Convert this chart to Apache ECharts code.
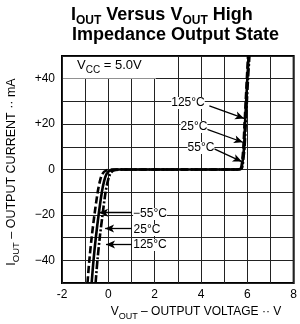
<!DOCTYPE html>
<html><head><meta charset="utf-8">
<script src="https://cdn.jsdelivr.net/npm/echarts@6/dist/echarts.min.js"></script>
<style>html,body{margin:0;padding:0;background:#fff}#c{width:300px;height:324px}</style>
</head><body><div id="c"></div>
<script>
// --- data (V_OUT in V, I_OUT in mA) ---
const vM55 = [-0.90,-0.82,-0.72,-0.60,-0.46,-0.36,-0.26,-0.10,0.20,5.55,5.72,5.78,5.83,5.88,5.93,5.98,6.03];
const iM55 = [-50,-40,-30,-20,-10,-5,-2,-0.5,0,0,0.6,4,10,20,30,40,50];
const v25  = [-0.72,-0.64,-0.54,-0.42,-0.28,-0.18,-0.08,0.08,0.40,5.55,5.74,5.80,5.86,5.90,5.95,6.00,6.06];
const i25  = [-50,-40,-30,-20,-10,-5,-2,-0.5,0,0,0.6,4,10,20,30,40,50];
const v125 = [-0.55,-0.47,-0.37,-0.25,-0.12,-0.02,0.08,0.22,0.55,5.55,5.76,5.82,5.88,5.93,5.98,6.03,6.09];
const i125 = [-50,-40,-30,-20,-10,-5,-2,-0.5,0,0,0.6,4,10,20,30,40,50];
const xTickLabels = {'-2':'-2','0':'0','2':'2','4':'4','6':'6','8':'8'};
const yTickLabels = {'40':'+40','20':'+20','0':'0','-20':'\u221220','-40':'\u221240'};
// annotation arrows (data coords): [fromV, fromI, toV, toI]
const arrowsRight = [[4.36,28,5.86,22.5],[4.06,18.4,5.81,12],[4.57,9.1,5.76,3.5]];
const arrowsLeft  = [[1.0,-19,-0.40,-19],[1.0,-26,-0.14,-26],[1.0,-33,-0.10,-33]];

const pair = (xs, ys) => xs.map((x, k) => [x, ys[k]]);
const chart = echarts.init(document.getElementById('c'));
const lineW = 2.6;
const arrowData = arrowsRight.concat(arrowsLeft).map(a => [{coord:[a[0],a[1]]},{coord:[a[2],a[3]]}]);
const FF = '"Liberation Sans", Arial, sans-serif';

chart.setOption({
  animation: false,
  grid: {left: 62, right: 2, top: 56, bottom: 41, show: true, borderColor: '#000', borderWidth: 2, containLabel: false},
  xAxis: {
    type: 'value', min: -2, max: 8, interval: 1,
    axisLine: {show: false}, axisTick: {show: false},
    splitLine: {show: true, lineStyle: {color: '#222', width: 1}},
    axisLabel: {color: '#000', fontFamily: FF, fontSize: 12, margin: 6,
      formatter: v => xTickLabels[String(v)] || ''}
  },
  yAxis: {
    type: 'value', min: -50, max: 50, interval: 10,
    axisLine: {show: false}, axisTick: {show: false},
    splitLine: {show: true, lineStyle: {color: '#222', width: 1}},
    axisLabel: {color: '#000', fontFamily: FF, fontSize: 12, margin: 7,
      formatter: v => yTickLabels[String(v)] || ''}
  },
  series: [
    {name: '-55°C', type: 'line', data: pair(vM55, iM55), showSymbol: false, smooth: 0.3,
      lineStyle: {color: '#000', width: lineW, type: [7, 3]}},
    {name: '25°C', type: 'line', data: pair(v25, i25), showSymbol: false, smooth: 0.3,
      lineStyle: {color: '#000', width: lineW, type: 'solid'},
      markLine: {silent: true, symbol: ['none', 'arrow'], symbolSize: [6, 9],
        label: {show: false}, lineStyle: {color: '#000', width: 1.3, type: 'solid'},
        data: arrowData}},
    {name: '125°C', type: 'line', data: pair(v125, i125), showSymbol: false, smooth: 0.3,
      lineStyle: {color: '#000', width: lineW, type: [8, 2, 2, 2]}}
  ],
  graphic: [
    {type: 'text', left: 71, top: 6, style: {
      text: '{b|I}{s|OUT}{b| Versus V}{s|OUT}{b| High}',
      rich: {b: {fontSize: 18, fontWeight: 'bold', fontFamily: FF, fill: '#000', verticalAlign: 'bottom'},
             s: {fontSize: 12, fontWeight: 'bold', fontFamily: FF, fill: '#000', verticalAlign: 'bottom', padding: [0,0,-3,0]}}}},
    {type: 'text', left: 72, top: 26, style: {text: 'Impedance Output State', font: 'bold 18px ' + FF, fill: '#000'}},
    {type: 'rect', shape: {x: 63, y: 57, width: 93, height: 21.5}, style: {fill: '#fff'}, z: 10},
    {type: 'text', left: 77, top: 59, z: 11, style: {
      text: '{n|V}{s|CC}{n| = 5.0V}',
      rich: {n: {fontSize: 13, fontFamily: FF, fill: '#000', verticalAlign: 'bottom'},
             s: {fontSize: 10, fontFamily: FF, fill: '#000', verticalAlign: 'bottom', padding: [0,0,-3,0]}}}},
    {type: 'text', x: 196, y: 312, z: 11, style: {
      text: '{n|V}{s|OUT}{n| \u2013 OUTPUT VOLTAGE \u00b7\u00b7 V}', align: 'center', verticalAlign: 'middle',
      rich: {n: {fontSize: 12, fontFamily: FF, fill: '#000', verticalAlign: 'bottom'},
             s: {fontSize: 9, fontFamily: FF, fill: '#000', verticalAlign: 'bottom', padding: [0,0,-3,0]}}}},
    {type: 'text', x: 12, y: 172, rotation: Math.PI / 2, z: 11, style: {
      text: '{n|I}{s|OUT}{n| \u2013 OUTPUT CURRENT \u00b7\u00b7 mA}', align: 'center', verticalAlign: 'middle',
      rich: {n: {fontSize: 12.5, fontFamily: FF, fill: '#000', verticalAlign: 'bottom'},
             s: {fontSize: 9.5, fontFamily: FF, fill: '#000', verticalAlign: 'bottom', padding: [0,0,-3,0]}}}},
    // annotation labels
    {type: 'text', x: 188, y: 103, z: 11, style: {text: '125\u00b0C', font: '12px ' + FF, fill: '#000', backgroundColor: '#fff', align: 'center', verticalAlign: 'middle'}},
    {type: 'text', x: 194, y: 127, z: 11, style: {text: '25\u00b0C', font: '12px ' + FF, fill: '#000', backgroundColor: '#fff', align: 'center', verticalAlign: 'middle'}},
    {type: 'text', x: 201, y: 148, z: 11, style: {text: '55\u00b0C', font: '12px ' + FF, fill: '#000', backgroundColor: '#fff', align: 'center', verticalAlign: 'middle'}},
    {type: 'text', x: 150, y: 214, z: 11, style: {text: '\u221255\u00b0C', font: '12px ' + FF, fill: '#000', backgroundColor: '#fff', align: 'center', verticalAlign: 'middle'}},
    {type: 'text', x: 147, y: 230, z: 11, style: {text: '25\u00b0C', font: '12px ' + FF, fill: '#000', backgroundColor: '#fff', align: 'center', verticalAlign: 'middle'}},
    {type: 'text', x: 150, y: 245, z: 11, style: {text: '125\u00b0C', font: '12px ' + FF, fill: '#000', backgroundColor: '#fff', align: 'center', verticalAlign: 'middle'}}
  ]
});
</script></body></html>
